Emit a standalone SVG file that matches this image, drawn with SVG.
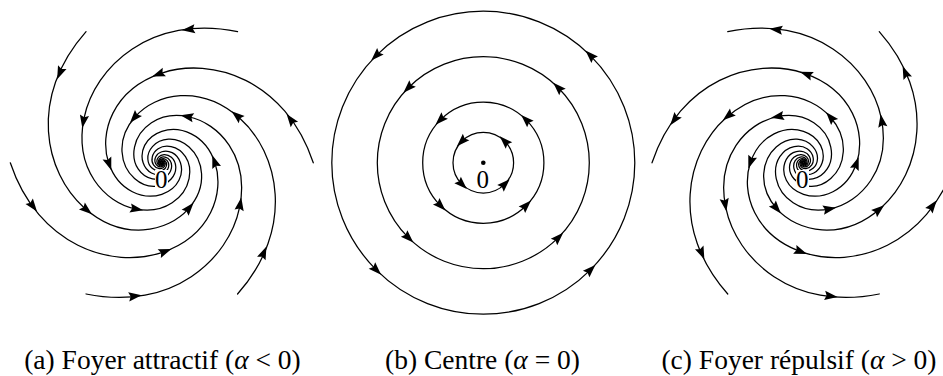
<svg xmlns="http://www.w3.org/2000/svg" width="943" height="376" viewBox="0 0 943 376">
<style>
.traj{fill:none;stroke:#000;stroke-width:1.25;stroke-linecap:round}
.ah{fill:#000;stroke:none}
.cap{font-family:"Liberation Serif","Times New Roman",serif;font-size:27.5px;text-anchor:middle;fill:#000}
.lbl{font-family:"Liberation Serif","Times New Roman",serif;font-size:25px;text-anchor:middle;fill:#000}
</style>
<defs>
<path id="ah" class="ah" d="M7,0 L-6,-4.6 L-4,0 L-6,4.6 Z"/>
<path id="sp" class="traj" d="M151,0 C123.20,-83.39 49.40,-105.92 0,-89.45 C-49.40,-72.98 -62.75,-29.27 -52.99,0 C-43.23,29.27 -17.34,37.17 0,31.39 C17.34,25.61 22.02,10.27 18.60,0 C15.18,-10.27 6.09,-13.05 0,-11.02 C-6.09,-8.99 -7.73,-3.61 -6.53,0 C-5.33,3.61 -2.14,4.58 0,3.87 C2.14,3.16 2.71,1.27 2.29,0 C1.87,-1.26 0.75,-1.61 0,-1.36 C-0.75,-1.11 -0.95,-0.45 -0.80,0"/>
<g id="armA">
<use href="#sp"/>
<use href="#ah" transform="translate(128.58,-43.03) rotate(-126.93)"/>
<use href="#ah" transform="translate(-3.09,-88.37) rotate(-200.43)"/>
<use href="#ah" transform="translate(-52.68,0.92) rotate(-289.43)"/>
</g>
<g id="armC">
<use href="#sp"/>
<use href="#ah" transform="translate(128.58,-43.03) rotate(53.07)"/>
<use href="#ah" transform="translate(-3.09,-88.37) rotate(-20.43)"/>
<use href="#ah" transform="translate(-52.68,0.92) rotate(-109.43)"/>
</g>
</defs>

<g id="panel-a">
<g id="trajectories-a" transform="translate(161.8,162.8) scale(1.0033)">
<use href="#armA"/>
<use href="#armA" transform="rotate(-60)"/>
<use href="#armA" transform="rotate(-120)"/>
<use href="#armA" transform="rotate(-180)"/>
<use href="#armA" transform="rotate(-240)"/>
<use href="#armA" transform="rotate(-300)"/>
</g>
<g id="origin-a">
<rect x="155" y="170" width="13" height="20" fill="#fff"/>
<text class="lbl" x="161.3" y="188.3">0</text>
</g>
<text id="caption-a" class="cap" x="162.5" y="369">(a) Foyer attractif (<tspan font-style="italic">α</tspan> &lt; 0)</text>
</g>

<g id="panel-b">
<g id="orbits-b" transform="translate(483.3,162.7)">
<circle class="traj" r="30.3"/>
<circle class="traj" r="60.6"/>
<circle class="traj" r="106"/>
<circle class="traj" r="151.5"/>
<use href="#ah" transform="translate(21.43,-21.43) rotate(-135)"/>
<use href="#ah" transform="translate(-21.43,-21.43) rotate(135)"/>
<use href="#ah" transform="translate(-21.43,21.43) rotate(45)"/>
<use href="#ah" transform="translate(21.43,21.43) rotate(-45)"/>
<use href="#ah" transform="translate(42.85,-42.85) rotate(-135)"/>
<use href="#ah" transform="translate(-42.85,-42.85) rotate(135)"/>
<use href="#ah" transform="translate(-42.85,42.85) rotate(45)"/>
<use href="#ah" transform="translate(42.85,42.85) rotate(-45)"/>
<use href="#ah" transform="translate(74.95,-74.95) rotate(-135)"/>
<use href="#ah" transform="translate(-74.95,-74.95) rotate(135)"/>
<use href="#ah" transform="translate(-74.95,74.95) rotate(45)"/>
<use href="#ah" transform="translate(74.95,74.95) rotate(-45)"/>
<use href="#ah" transform="translate(107.13,-107.13) rotate(-135)"/>
<use href="#ah" transform="translate(-107.13,-107.13) rotate(135)"/>
<use href="#ah" transform="translate(-107.13,107.13) rotate(45)"/>
<use href="#ah" transform="translate(107.13,107.13) rotate(-45)"/>
</g>
<g id="origin-b">
<circle cx="483.3" cy="162.7" r="2.3" fill="#000"/>
<text class="lbl" x="482.8" y="188.3">0</text>
</g>
<text id="caption-b" class="cap" x="482.5" y="369">(b) Centre (<tspan font-style="italic">α</tspan> = 0)</text>
</g>

<g id="panel-c">
<g id="trajectories-c" transform="translate(803.5,162.8) scale(-1.0033,1.0033)">
<use href="#armC"/>
<use href="#armC" transform="rotate(-60)"/>
<use href="#armC" transform="rotate(-120)"/>
<use href="#armC" transform="rotate(-180)"/>
<use href="#armC" transform="rotate(-240)"/>
<use href="#armC" transform="rotate(-300)"/>
</g>
<g id="origin-c">
<rect x="796" y="170" width="13" height="20" fill="#fff"/>
<text class="lbl" x="802.3" y="188.3">0</text>
</g>
<text id="caption-c" class="cap" x="799" y="369">(c) Foyer répulsif (<tspan font-style="italic">α</tspan> &gt; 0)</text>
</g>
</svg>
